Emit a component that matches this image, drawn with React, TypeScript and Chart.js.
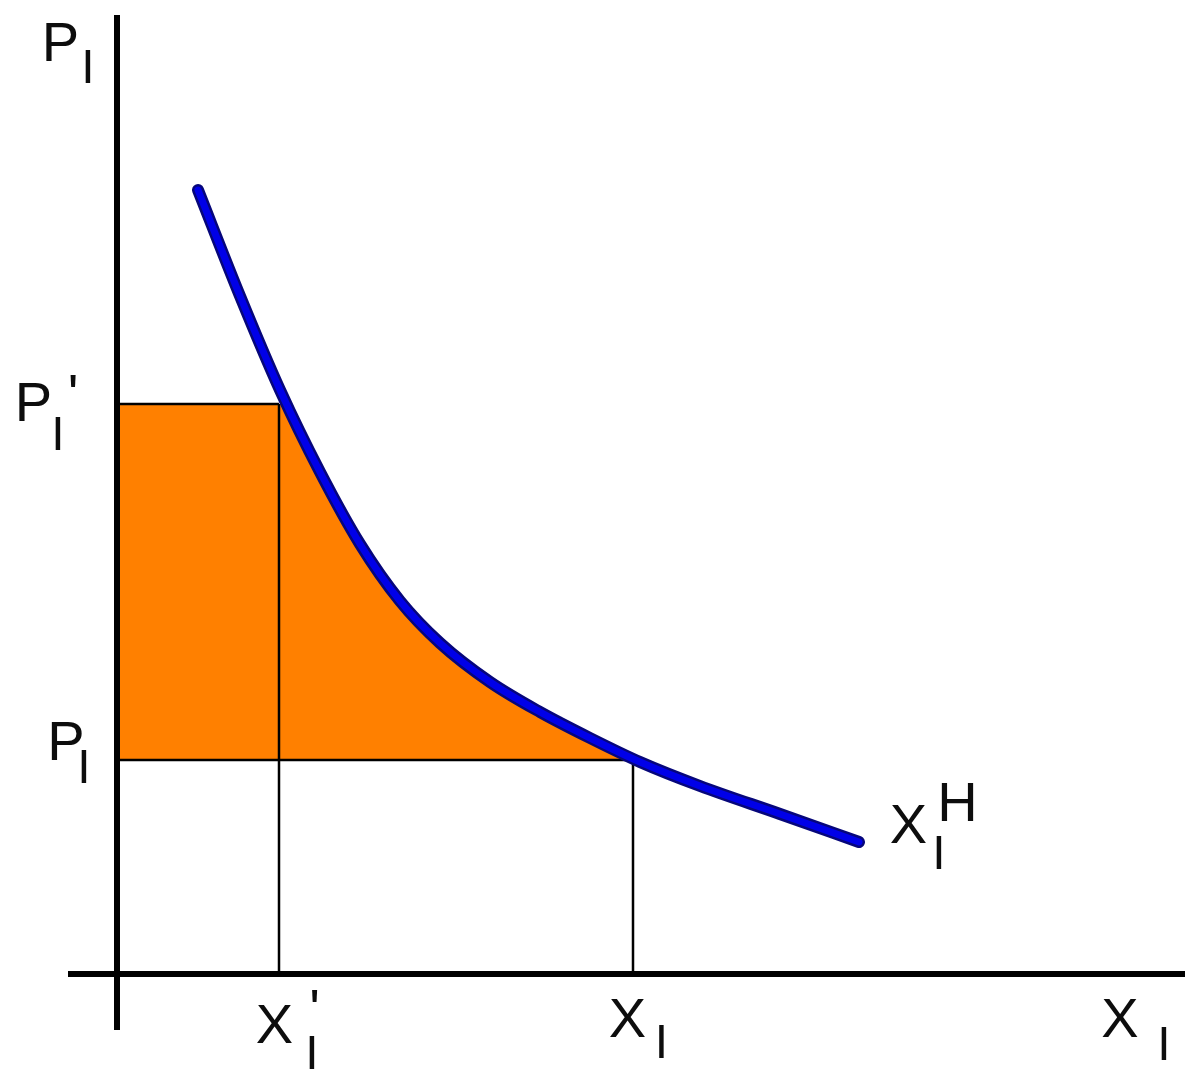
import React, { useEffect, useRef } from "react";
import { Chart, registerables } from "chart.js";

Chart.register(...registerables);

// Demand curve X_I^H (quantity, price) in diagram units
const curveX = [0.81, 1.23, 1.63, 2.03, 2.43, 2.83, 3.23, 3.73, 4.23, 4.73, 5.23, 5.83, 6.63, 7.42];
const curveY = [7.84, 6.78, 5.84, 5.02, 4.3, 3.73, 3.31, 2.92, 2.62, 2.36, 2.12, 1.88, 1.6, 1.32];

// Price levels: P_I' and P_I
const priceLevels = [5.7, 2.14];
// Quantity levels: X_I' and X_I
const quantityLevels = [1.62, 5.16];

// Axis extents and view window
const axisXRange = [-0.49, 10.68];
const axisYRange = [-0.56, 9.59];
const viewX = [-1.17, 10.69];
const viewY = [-0.98, 9.74];

const FONT = '"Liberation Sans", Arial, sans-serif';

type Glyph = { t: string; size: number; ax: number; ay: number; dx: number; dy: number };

const glyphs: Glyph[] = [
  // P_I (axis title)
  { t: "P", size: 56, ax: 0, ay: axisYRange[1], dx: -56.5, dy: 46 },
  { t: "I", size: 48, ax: 0, ay: axisYRange[1], dx: -29, dy: 68 },
  // P_I'
  { t: "P", size: 56, ax: 0, ay: priceLevels[0], dx: -83.5, dy: 17 },
  { t: "'", size: 56, ax: 0, ay: priceLevels[0], dx: -44, dy: 9 },
  { t: "I", size: 48, ax: 0, ay: priceLevels[0], dx: -59, dy: 46 },
  // P_I
  { t: "P", size: 56, ax: 0, ay: priceLevels[1], dx: -51, dy: 0 },
  { t: "I", size: 48, ax: 0, ay: priceLevels[1], dx: -33, dy: 23 },
  // X_I'
  { t: "X", size: 56, ax: quantityLevels[0], ay: 0, dx: -4.5, dy: 69 },
  { t: "'", size: 56, ax: quantityLevels[0], ay: 0, dx: 35.5, dy: 54 },
  { t: "I", size: 48, ax: quantityLevels[0], ay: 0, dx: 33, dy: 95 },
  // X_I
  { t: "X", size: 56, ax: quantityLevels[1], ay: 0, dx: -5.5, dy: 63 },
  { t: "I", size: 48, ax: quantityLevels[1], ay: 0, dx: 28.5, dy: 84 },
  // X_I (axis title)
  { t: "X", size: 56, ax: axisXRange[1], ay: 0, dx: -65, dy: 63 },
  { t: "I", size: 48, ax: axisXRange[1], ay: 0, dx: -21, dy: 86 },
  // X_I^H (curve label)
  { t: "X", size: 56, ax: curveX[curveX.length - 1], ay: curveY[curveY.length - 1], dx: 49.5, dy: 1 },
  { t: "I", size: 48, ax: curveX[curveX.length - 1], ay: curveY[curveY.length - 1], dx: 80, dy: 27 },
  { t: "H", size: 56, ax: curveX[curveX.length - 1], ay: curveY[curveY.length - 1], dx: 98.5, dy: -21 },
];

const labelPlugin = {
  id: "glyphLabels",
  afterDraw(chart: any) {
    const { ctx, scales } = chart;
    ctx.save();
    ctx.fillStyle = "#0d0d0d";
    ctx.textAlign = "center";
    ctx.textBaseline = "alphabetic";
    for (const g of glyphs) {
      const px = scales.x.getPixelForValue(g.ax) + g.dx;
      const py = scales.y.getPixelForValue(g.ay) + g.dy;
      ctx.font = `${g.size}px ${FONT}`;
      ctx.fillText(g.t, px, py);
    }
    ctx.restore();
  },
};

// x where the (piecewise-linear) curve reaches a given price level
function crossingX(level: number): number {
  for (let i = 0; i < curveX.length - 1; i++) {
    const y0 = curveY[i];
    const y1 = curveY[i + 1];
    if ((y0 - level) * (y1 - level) <= 0) {
      const t = (y0 - level) / (y0 - y1);
      return curveX[i] + t * (curveX[i + 1] - curveX[i]);
    }
  }
  return curveX[curveX.length - 1];
}

export default function App() {
  const ref = useRef<HTMLCanvasElement | null>(null);

  useEffect(() => {
    if (!ref.current) return;
    const curve = curveX.map((x, i) => ({ x, y: curveY[i] }));
    const [pHigh, pLow] = priceLevels;
    const [xLow, xHigh] = quantityLevels;
    const cHigh = crossingX(pHigh);
    const cLow = crossingX(pLow);
    const fillPts = [
      { x: 0, y: pHigh },
      { x: cHigh, y: pHigh },
      ...curve.filter((p) => p.x > cHigh && p.x < cLow),
      { x: cLow, y: pLow },
    ];
    const line = (data: { x: number; y: number }[], color: string, width: number) => ({
      data,
      showLine: true,
      borderColor: color,
      borderWidth: width,
      pointRadius: 0,
      pointHoverRadius: 0,
      fill: false,
      tension: 0,
    });
    const curveSet = (color: string, width: number) =>
      ({
        data: curve,
        showLine: true,
        borderColor: color,
        borderWidth: width,
        borderCapStyle: "round",
        borderJoinStyle: "round",
        pointRadius: 0,
        pointHoverRadius: 0,
        cubicInterpolationMode: "monotone",
        fill: false,
      } as any);

    const chart = new Chart(ref.current, {
      type: "scatter",
      data: {
        datasets: [
          curveSet("#0000e8", 7),
          curveSet("#06067a", 12),
          line([{ x: 0, y: pHigh }, { x: xLow, y: pHigh }], "#000", 2.5),
          line([{ x: xLow, y: pHigh }, { x: xLow, y: 0 }], "#000", 2.5),
          line([{ x: 0, y: pLow }, { x: xHigh, y: pLow }], "#000", 2.5),
          line([{ x: xHigh, y: pLow }, { x: xHigh, y: 0 }], "#000", 2.5),
          line([{ x: 0, y: axisYRange[0] }, { x: 0, y: axisYRange[1] }], "#000", 6),
          line([{ x: axisXRange[0], y: 0 }, { x: axisXRange[1], y: 0 }], "#000", 6),
          {
            data: fillPts,
            showLine: true,
            borderWidth: 0,
            borderColor: "rgba(0,0,0,0)",
            backgroundColor: "#ff8000",
            pointRadius: 0,
            pointHoverRadius: 0,
            tension: 0,
            fill: { value: pLow },
          } as any,
        ],
      },
      options: {
        animation: false,
        responsive: false,
        maintainAspectRatio: false,
        layout: { padding: 0 },
        events: [],
        plugins: {
          legend: { display: false },
          tooltip: { enabled: false },
        },
        scales: {
          x: { type: "linear", min: viewX[0], max: viewX[1], display: false },
          y: { type: "linear", min: viewY[0], max: viewY[1], display: false },
        },
      },
      plugins: [labelPlugin],
    });
    return () => chart.destroy();
  }, []);

  return (
    <div style={{ position: "absolute", left: 0, top: 0, width: 1186, height: 1072, background: "#fff" }}>
      <canvas ref={ref} width={1186} height={1072} style={{ width: 1186, height: 1072 }} />
    </div>
  );
}
